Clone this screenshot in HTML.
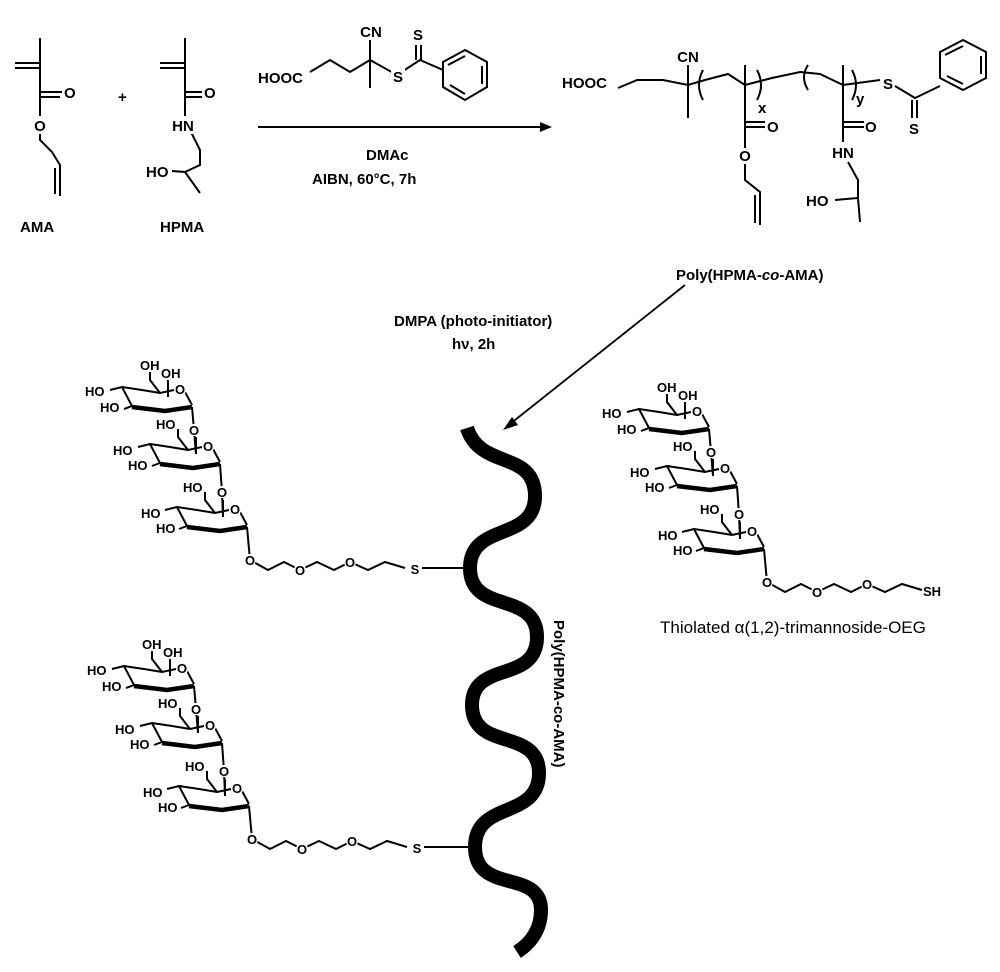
<!DOCTYPE html>
<html><head><meta charset="utf-8"><style>
html,body{margin:0;padding:0;background:#fff}
svg{display:block}
text{font-family:"Liberation Sans",Arial,sans-serif;font-weight:bold;fill:#000}
.s{font-size:13px}
.m{font-size:15px}
.c{text-anchor:middle}
.w{fill:#fff;stroke:none}
</style></head><body>
<svg width="1000" height="972" viewBox="0 0 1000 972" xmlns="http://www.w3.org/2000/svg">
<defs>
<g id="ring" fill="none" stroke="#000" stroke-width="2">
<path d="M30,60 L42,57 L52,76 M44,79 L52,76 M42,57 L62,60 L80,63 L94,60 M80,63 L70,50 L70,42 M88,67 L88,50 M105,62 L112,75"/>
<path d="M52,77 L85,81 L112,77" stroke-width="4.5"/>
</g>
<g id="sugar">
<use href="#ring"/>
<use href="#ring" transform="translate(28,57)"/>
<use href="#ring" transform="translate(55,120)"/>
<path d="M112,77 L114,100 L116,124 M140,134 L142,162 L143,187 M167,197 L170,230" fill="none" stroke="#000" stroke-width="2"/>
<path d="M170,230 L188,240 L204,232 L220,240 L237,232 L254,240 L270,232 L288,240 L305,232 L325,238" fill="none" stroke="#000" stroke-width="2"/>
<g class="w"><circle cx="114" cy="100" r="6"/><circle cx="142" cy="162" r="6"/><circle cx="170" cy="230" r="6"/><circle cx="220" cy="240" r="6"/><circle cx="270" cy="232" r="6"/><circle cx="100" cy="60" r="6"/><circle cx="128" cy="117" r="6"/><circle cx="155" cy="180" r="6"/></g>
</g>
</defs>

<!-- AMA -->
<g fill="none" stroke="#000" stroke-width="2">
<path d="M40,38 L40,92 M15,63 L40,63 M15,68 L40,68 M40,92 L62,92 M40,97 L60,97 M40,92 L40,140 L52,152 L60,165 L60,196 M55,168 L55,194"/>
<path d="M185,38 L185,92 M160,63 L185,63 M160,68 L185,68 M185,92 L202,92 M185,97 L202,97 M185,92 L185,120 L200,150 L200,165 L185,172 M172,171 L185,172 L200,193"/>
</g>
<rect class="w" x="32" y="116" width="16" height="18"/>
<rect class="w" x="171" y="116" width="24" height="18"/>
<text class="m" x="64" y="98">O</text>
<text class="m c" x="40" y="131">O</text>
<text class="m" x="20" y="232">AMA</text>
<text class="m" x="118" y="102">+</text>
<text class="m" x="204" y="98">O</text>
<text class="m c" x="183" y="131">HN</text>
<text class="m" x="146" y="177">HO</text>
<text class="m" x="160" y="232">HPMA</text>

<!-- CTA -->
<g fill="none" stroke="#000" stroke-width="2">
<path d="M310,72 L330,60 L350,72 L370,60 L370,88 M370,40 L370,60 L397,75 L420,60 L443,70 M416,45 L416,60 M421,45 L421,60"/>
<polygon points="443,62 465,50 487,62 487,87 465,100 443,87"/>
<path d="M448,65 L465,56 M482,66 L482,84 M450,85 L465,94"/>
<path d="M258,127 L545,127"/>
</g>
<polygon points="552,127 540,122 540,132" fill="#000"/>
<rect class="w" x="391" y="67" width="14" height="17"/>
<text class="m" x="258" y="83">HOOC</text>
<text class="m c" x="371" y="37">CN</text>
<text class="m c" x="398" y="82">S</text>
<text class="m c" x="418" y="40">S</text>
<text class="m" x="366" y="160">DMAc</text>
<text class="m" x="312" y="184">AIBN, 60°C, 7h</text>

<!-- Product -->
<g fill="none" stroke="#000" stroke-width="2">
<path d="M618,88 L637,80 L663,80 L688,85 L705,80 L728,74 L745,85 L772,78 L800,72 L820,74 L843,85 L880,80"/>
<path d="M688,65 L688,118 M745,65 L745,122 M843,65 L843,122"/>
<path d="M703,70 Q695,85 703,100 M757,70 Q765,85 757,100 M808,65 Q800,77 808,90 M852,70 Q860,85 852,100"/>
<path d="M745,122 L765,122 M745,127 L765,127 M745,122 L745,148 M745,164 L745,180 L760,192 L760,225 M755,195 L755,223"/>
<path d="M843,122 L864,122 M843,127 L864,127 M843,122 L843,142 M848,162 L858,180 L858,198 L835,200 M858,198 L860,222"/>
<path d="M895,86 L915,98 L940,86 M912,100 L912,118 M917,100 L917,118"/>
<polygon points="940,52 963,40 986,52 986,78 963,90 940,78"/>
<path d="M945,55 L963,46 M981,56 L981,74 M947,76 L963,84"/>
</g>
<text class="m" x="562" y="88">HOOC</text>
<text class="m c" x="688" y="62">CN</text>
<text class="m" x="758" y="113">x</text>
<text class="m" x="856" y="104">y</text>
<text class="m" x="767" y="132">O</text>
<text class="m c" x="745" y="161">O</text>
<text class="m" x="865" y="132">O</text>
<text class="m c" x="843" y="158">HN</text>
<text class="m" x="806" y="206">HO</text>
<text class="m c" x="888" y="89">S</text>
<text class="m c" x="914" y="134">S</text>
<text class="m" x="676" y="280">Poly(HPMA-<tspan font-style="italic">co</tspan>-AMA)</text>

<!-- diagonal arrow -->
<path d="M685,285 L510,424" stroke="#000" stroke-width="1.8" fill="none"/>
<polygon points="503,430 512,417 518,425" fill="#000"/>
<text class="m" x="394" y="326">DMPA (photo-initiator)</text>
<text class="m" x="452" y="349">hν, 2h</text>

<!-- polymer -->
<path d="M467,428 C480,470 535,450 535,496 C535,542 470,522 470,568 C470,615 537,590 537,637 C537,684 472,660 472,705 C472,752 539,727 539,773 C539,820 475,800 475,847 C475,895 541,868 541,910 C541,932 528,945 517,952" fill="none" stroke="#000" stroke-width="14"/>
<text class="m" transform="translate(554,620) rotate(90)">Poly(HPMA-co-AMA)</text>

<!-- upper sugar -->
<g transform="translate(80,330)">
<use href="#sugar"/>
<text class="s" x="60" y="40">OH</text><text class="s" x="81" y="48">OH</text><text class="s c" x="100" y="64">O</text>
<text class="s" x="5" y="66">HO</text><text class="s" x="20" y="82">HO</text>
<text class="s c" x="114" y="105">O</text><text class="s c" x="128" y="121">O</text>
<text class="s" x="76" y="99">HO</text><text class="s" x="33" y="125">HO</text><text class="s" x="48" y="140">HO</text>
<text class="s c" x="142" y="167">O</text><text class="s c" x="155" y="184">O</text>
<text class="s" x="103" y="162">HO</text><text class="s" x="61" y="188">HO</text><text class="s" x="76" y="203">HO</text>
<text class="s c" x="170" y="235">O</text><text class="s c" x="220" y="245">O</text><text class="s c" x="270" y="237">O</text>
<text class="s c" x="335" y="244">S</text>
</g>
<path d="M422,568 L470,568" stroke="#000" stroke-width="2"/>

<!-- lower sugar -->
<g transform="translate(82,609)">
<use href="#sugar"/>
<text class="s" x="60" y="40">OH</text><text class="s" x="81" y="48">OH</text><text class="s c" x="100" y="64">O</text>
<text class="s" x="5" y="66">HO</text><text class="s" x="20" y="82">HO</text>
<text class="s c" x="114" y="105">O</text><text class="s c" x="128" y="121">O</text>
<text class="s" x="76" y="99">HO</text><text class="s" x="33" y="125">HO</text><text class="s" x="48" y="140">HO</text>
<text class="s c" x="142" y="167">O</text><text class="s c" x="155" y="184">O</text>
<text class="s" x="103" y="162">HO</text><text class="s" x="61" y="188">HO</text><text class="s" x="76" y="203">HO</text>
<text class="s c" x="170" y="235">O</text><text class="s c" x="220" y="245">O</text><text class="s c" x="270" y="237">O</text>
<text class="s c" x="335" y="244">S</text>
</g>
<path d="M424,847 L475,847" stroke="#000" stroke-width="2"/>

<!-- right sugar -->
<g transform="translate(597,352)">
<use href="#sugar"/>
<text class="s" x="60" y="40">OH</text><text class="s" x="81" y="48">OH</text><text class="s c" x="100" y="64">O</text>
<text class="s" x="5" y="66">HO</text><text class="s" x="20" y="82">HO</text>
<text class="s c" x="114" y="105">O</text><text class="s c" x="128" y="121">O</text>
<text class="s" x="76" y="99">HO</text><text class="s" x="33" y="125">HO</text><text class="s" x="48" y="140">HO</text>
<text class="s c" x="142" y="167">O</text><text class="s c" x="155" y="184">O</text>
<text class="s" x="103" y="162">HO</text><text class="s" x="61" y="188">HO</text><text class="s" x="76" y="203">HO</text>
<text class="s c" x="170" y="235">O</text><text class="s c" x="220" y="245">O</text><text class="s c" x="270" y="237">O</text>
<text class="s" x="326" y="244">SH</text>
</g>
<text x="660" y="633" style="font-size:17px;font-weight:normal">Thiolated  α(1,2)-trimannoside-OEG</text>
</svg>
</body></html>
